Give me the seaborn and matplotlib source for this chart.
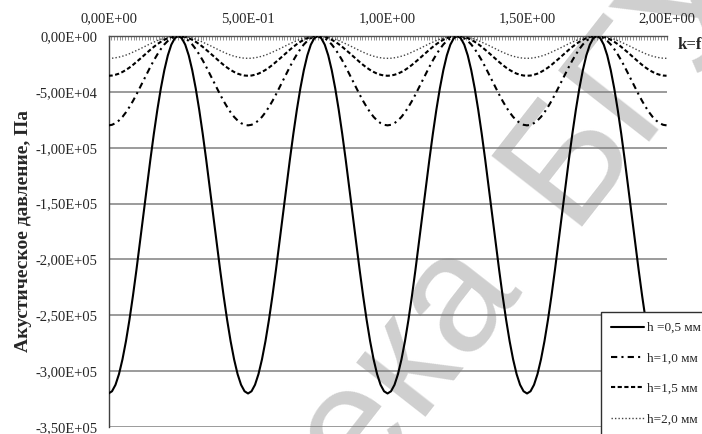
import numpy as np
import pandas as pd
import matplotlib
matplotlib.use("Agg")
import matplotlib.pyplot as plt
import matplotlib.ticker as mticker
import seaborn as sns

# координата (ось сверху), шаг 0.0125
x_vals = np.linspace(0.0, 2.0, 161)

# давление, кПа
p_h05 = [-320.0, -318.0, -312.2, -302.6, -289.4, -273.1, -254.0, -232.6, -209.4, -185.0,
         -160.0, -135.0, -110.6, -87.4, -66.0, -46.9, -30.6, -17.4, -7.8, -2.0,
         0.0, -2.0, -7.8, -17.4, -30.6, -46.9, -66.0, -87.4, -110.6, -135.0,
         -160.0, -185.0, -209.4, -232.6, -254.0, -273.1, -289.4, -302.6, -312.2, -318.0,
         -320.0, -318.0, -312.2, -302.6, -289.4, -273.1, -254.0, -232.6, -209.4, -185.0,
         -160.0, -135.0, -110.6, -87.4, -66.0, -46.9, -30.6, -17.4, -7.8, -2.0,
         0.0, -2.0, -7.8, -17.4, -30.6, -46.9, -66.0, -87.4, -110.6, -135.0,
         -160.0, -185.0, -209.4, -232.6, -254.0, -273.1, -289.4, -302.6, -312.2, -318.0,
         -320.0, -318.0, -312.2, -302.6, -289.4, -273.1, -254.0, -232.6, -209.4, -185.0,
         -160.0, -135.0, -110.6, -87.4, -66.0, -46.9, -30.6, -17.4, -7.8, -2.0,
         0.0, -2.0, -7.8, -17.4, -30.6, -46.9, -66.0, -87.4, -110.6, -135.0,
         -160.0, -185.0, -209.4, -232.6, -254.0, -273.1, -289.4, -302.6, -312.2, -318.0,
         -320.0, -318.0, -312.2, -302.6, -289.4, -273.1, -254.0, -232.6, -209.4, -185.0,
         -160.0, -135.0, -110.6, -87.4, -66.0, -46.9, -30.6, -17.4, -7.8, -2.0,
         0.0, -2.0, -7.8, -17.4, -30.6, -46.9, -66.0, -87.4, -110.6, -135.0,
         -160.0, -185.0, -209.4, -232.6, -254.0, -273.1, -289.4, -302.6, -312.2, -318.0,
         -320.0]

p_h10 = [-80.0, -79.5, -78.0, -75.6, -72.4, -68.3, -63.5, -58.2, -52.4, -46.3,
         -40.0, -33.7, -27.6, -21.8, -16.5, -11.7, -7.6, -4.4, -2.0, -0.5,
         0.0, -0.5, -2.0, -4.4, -7.6, -11.7, -16.5, -21.8, -27.6, -33.7,
         -40.0, -46.3, -52.4, -58.2, -63.5, -68.3, -72.4, -75.6, -78.0, -79.5,
         -80.0, -79.5, -78.0, -75.6, -72.4, -68.3, -63.5, -58.2, -52.4, -46.3,
         -40.0, -33.7, -27.6, -21.8, -16.5, -11.7, -7.6, -4.4, -2.0, -0.5,
         0.0, -0.5, -2.0, -4.4, -7.6, -11.7, -16.5, -21.8, -27.6, -33.7,
         -40.0, -46.3, -52.4, -58.2, -63.5, -68.3, -72.4, -75.6, -78.0, -79.5,
         -80.0, -79.5, -78.0, -75.6, -72.4, -68.3, -63.5, -58.2, -52.4, -46.3,
         -40.0, -33.7, -27.6, -21.8, -16.5, -11.7, -7.6, -4.4, -2.0, -0.5,
         0.0, -0.5, -2.0, -4.4, -7.6, -11.7, -16.5, -21.8, -27.6, -33.7,
         -40.0, -46.3, -52.4, -58.2, -63.5, -68.3, -72.4, -75.6, -78.0, -79.5,
         -80.0, -79.5, -78.0, -75.6, -72.4, -68.3, -63.5, -58.2, -52.4, -46.3,
         -40.0, -33.7, -27.6, -21.8, -16.5, -11.7, -7.6, -4.4, -2.0, -0.5,
         0.0, -0.5, -2.0, -4.4, -7.6, -11.7, -16.5, -21.8, -27.6, -33.7,
         -40.0, -46.3, -52.4, -58.2, -63.5, -68.3, -72.4, -75.6, -78.0, -79.5,
         -80.0]

p_h15 = [-35.6, -35.4, -34.7, -33.7, -32.2, -30.4, -28.3, -25.9, -23.3, -20.6,
         -17.8, -15.0, -12.3, -9.7, -7.3, -5.2, -3.4, -1.9, -0.9, -0.2,
         0.0, -0.2, -0.9, -1.9, -3.4, -5.2, -7.3, -9.7, -12.3, -15.0,
         -17.8, -20.6, -23.3, -25.9, -28.3, -30.4, -32.2, -33.7, -34.7, -35.4,
         -35.6, -35.4, -34.7, -33.7, -32.2, -30.4, -28.3, -25.9, -23.3, -20.6,
         -17.8, -15.0, -12.3, -9.7, -7.3, -5.2, -3.4, -1.9, -0.9, -0.2,
         0.0, -0.2, -0.9, -1.9, -3.4, -5.2, -7.3, -9.7, -12.3, -15.0,
         -17.8, -20.6, -23.3, -25.9, -28.3, -30.4, -32.2, -33.7, -34.7, -35.4,
         -35.6, -35.4, -34.7, -33.7, -32.2, -30.4, -28.3, -25.9, -23.3, -20.6,
         -17.8, -15.0, -12.3, -9.7, -7.3, -5.2, -3.4, -1.9, -0.9, -0.2,
         0.0, -0.2, -0.9, -1.9, -3.4, -5.2, -7.3, -9.7, -12.3, -15.0,
         -17.8, -20.6, -23.3, -25.9, -28.3, -30.4, -32.2, -33.7, -34.7, -35.4,
         -35.6, -35.4, -34.7, -33.7, -32.2, -30.4, -28.3, -25.9, -23.3, -20.6,
         -17.8, -15.0, -12.3, -9.7, -7.3, -5.2, -3.4, -1.9, -0.9, -0.2,
         0.0, -0.2, -0.9, -1.9, -3.4, -5.2, -7.3, -9.7, -12.3, -15.0,
         -17.8, -20.6, -23.3, -25.9, -28.3, -30.4, -32.2, -33.7, -34.7, -35.4,
         -35.6]

p_h20 = [-20.0, -19.9, -19.5, -18.9, -18.1, -17.1, -15.9, -14.5, -13.1, -11.6,
         -10.0, -8.4, -6.9, -5.5, -4.1, -2.9, -1.9, -1.1, -0.5, -0.1,
         0.0, -0.1, -0.5, -1.1, -1.9, -2.9, -4.1, -5.5, -6.9, -8.4,
         -10.0, -11.6, -13.1, -14.5, -15.9, -17.1, -18.1, -18.9, -19.5, -19.9,
         -20.0, -19.9, -19.5, -18.9, -18.1, -17.1, -15.9, -14.5, -13.1, -11.6,
         -10.0, -8.4, -6.9, -5.5, -4.1, -2.9, -1.9, -1.1, -0.5, -0.1,
         0.0, -0.1, -0.5, -1.1, -1.9, -2.9, -4.1, -5.5, -6.9, -8.4,
         -10.0, -11.6, -13.1, -14.5, -15.9, -17.1, -18.1, -18.9, -19.5, -19.9,
         -20.0, -19.9, -19.5, -18.9, -18.1, -17.1, -15.9, -14.5, -13.1, -11.6,
         -10.0, -8.4, -6.9, -5.5, -4.1, -2.9, -1.9, -1.1, -0.5, -0.1,
         0.0, -0.1, -0.5, -1.1, -1.9, -2.9, -4.1, -5.5, -6.9, -8.4,
         -10.0, -11.6, -13.1, -14.5, -15.9, -17.1, -18.1, -18.9, -19.5, -19.9,
         -20.0, -19.9, -19.5, -18.9, -18.1, -17.1, -15.9, -14.5, -13.1, -11.6,
         -10.0, -8.4, -6.9, -5.5, -4.1, -2.9, -1.9, -1.1, -0.5, -0.1,
         0.0, -0.1, -0.5, -1.1, -1.9, -2.9, -4.1, -5.5, -6.9, -8.4,
         -10.0, -11.6, -13.1, -14.5, -15.9, -17.1, -18.1, -18.9, -19.5, -19.9,
         -20.0]

labels = ["h =0,5 мм", "h=1,0 мм", "h=1,5 мм", "h=2,0 мм"]
series = [p_h05, p_h10, p_h15, p_h20]
styles = ["-", (0, (3, 2, 1, 2)), (0, (2, 1.2)), (0, (1, 1.5))]
widths = [1.5, 1.5, 1.5, 1.0]
colors = ["black", "black", "black", "#444444"]

y_ticks = np.arange(0, -350001, -50000)
x_ticks = [0.0, 0.5, 1.0, 1.5, 2.0]


def sci_comma(v, pos=None):
    s = "{:.2E}".format(v).replace(".", ",")
    if s.startswith("-0,00"):
        s = s[1:]
    return s


sns.set_style("white")
plt.rcParams["font.family"] = ["Liberation Serif", "DejaVu Serif"]

fig = plt.figure(figsize=(7.02, 4.34), dpi=100)
ax = fig.add_axes([0.1546, 0.0161, 0.7949, 0.9010])

for p, lab, ls, lw, c in zip(series, labels, styles, widths, colors):
    df = pd.DataFrame({"x": x_vals, "p": np.array(p) * 1000.0})
    sns.lineplot(data=df, x="x", y="p", ax=ax, color=c, linestyle=ls,
                 linewidth=lw, label=lab, sort=False, errorbar=None, zorder=3)

ax.set_xlim(0, 2.0)
ax.set_ylim(-350000, 0)
ax.set_yticks(y_ticks)
ax.set_xticks(x_ticks)
ax.xaxis.set_minor_locator(mticker.MultipleLocator(0.01))
ax.xaxis.set_major_formatter(mticker.FuncFormatter(sci_comma))
ax.yaxis.set_major_formatter(mticker.FuncFormatter(sci_comma))
ax.xaxis.tick_top()
ax.xaxis.set_label_position("top")
ax.set_xlabel("")

ax.grid(axis="y", color="#808080", linewidth=1.1)
ax.grid(axis="x", visible=False)
for side in ["right", "bottom"]:
    ax.spines[side].set_visible(False)
ax.spines["left"].set_color("#404040")
ax.spines["top"].set_color("#505050")
ax.spines["left"].set_linewidth(1.0)
ax.spines["top"].set_linewidth(1.0)

ax.tick_params(axis="y", direction="out", length=3, color="#808080",
               labelsize=10.5, pad=5)
ax.tick_params(axis="x", which="major", direction="in", length=3,
               color="#707070", labelsize=10.5, pad=7.5)
ax.tick_params(axis="x", which="minor", direction="in", length=3,
               color="#808080", width=0.6)

ax.set_ylabel("Акустическое давление, Па", fontsize=14, fontweight="bold")
ax.yaxis.set_label_coords(-0.138, 0.5)

fig.text(678 / 702, 1 - 44 / 434, "k=f(h)", fontsize=12, fontweight="bold",
         va="center", ha="left")

ax.legend(loc="upper left", bbox_to_anchor=(601 / 702, 1 - 312 / 434),
          bbox_transform=fig.transFigure, fontsize=9.5, frameon=True,
          fancybox=False, edgecolor="#303030", framealpha=1,
          handlelength=2.5, handletextpad=0.2, labelspacing=1.38,
          borderpad=0.75, borderaxespad=0)

# водяной знак (под сеткой и линиями)
wm = dict(transform=fig.transFigure, fontsize=120, color="#cfcfcf",
          family="Liberation Sans", rotation=52, rotation_mode="anchor",
          va="center", zorder=0.2, clip_on=False)
ax.text(485 / 702, 1 - 254 / 434, "Библиотека", ha="right", **wm)
ax.text(535 / 702, 1 - 200 / 434, "БГУИР", ha="left", **wm)

fig.savefig("out.png", dpi=100)
